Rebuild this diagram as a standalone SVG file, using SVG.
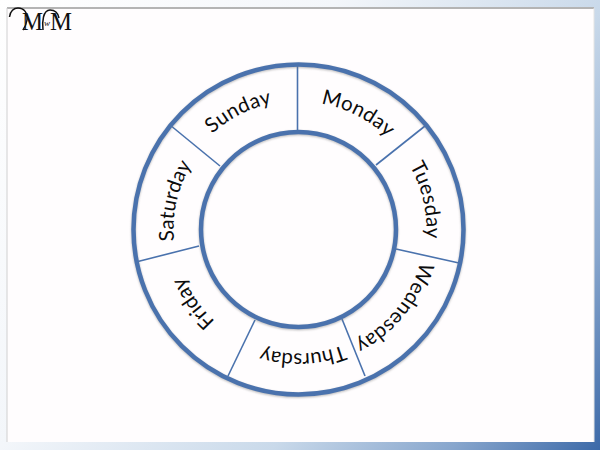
<svg xmlns="http://www.w3.org/2000/svg" xmlns:xlink="http://www.w3.org/1999/xlink" width="600" height="450" viewBox="0 0 600 450">
<style>
.ring{fill:none;stroke:#4a72ad;stroke-width:4.500}
.shadow{fill:none;stroke:#777;stroke-width:4.500;opacity:.5;filter:url(#sh)}
.div{stroke:#4a72ad;stroke-width:1.600;fill:none}
.day{font-family:"Lato","Open Sans",sans-serif;font-size:20.500px;fill:#0c0c0c;text-anchor:middle}
.logo{font-family:"Liberation Serif",serif;fill:#111}
.sw{fill:none;stroke:#111;stroke-width:1.500}
</style>
<defs>
<linearGradient id="bg" gradientUnits="userSpaceOnUse" x1="0" y1="0" x2="600" y2="450">
<stop offset="0" stop-color="#ffffff"/><stop offset="0.36" stop-color="#f3f6fa"/><stop offset="0.65" stop-color="#c9d9ea"/><stop offset="0.84" stop-color="#88a6cd"/><stop offset="1" stop-color="#3c69a8"/>
</linearGradient>
<path id="arc" d="M174.500 229.500A124 124 0 0 1 422.500 229.500"/>
<filter id="sh" x="-5%" y="-5%" width="110%" height="110%"><feGaussianBlur stdDeviation="1"/></filter>
</defs>
<rect width="600" height="450" fill="url(#bg)"/>
<rect x="7" y="8" width="587" height="434" fill="#fffdfe"/>
<path d="M7 8H594" stroke="#b4b4b4" stroke-width="2" fill="none"/>
<path d="M7 8V442" stroke="#d0d0d0" stroke-width="1" fill="none"/>
<path d="M594 8V442" stroke="#e4e4e4" stroke-width="1" fill="none"/>
<g id="logo">
<text class="logo" x="22" y="30" font-size="26" textLength="21" lengthAdjust="spacingAndGlyphs">M</text>
<text class="logo" x="44" y="26" font-size="9" font-style="italic">w</text>
<text class="logo" x="50" y="30" font-size="26" textLength="22" lengthAdjust="spacingAndGlyphs">M</text>
<path class="sw" d="M9.500 17C10 11 14 8 18 8C24 8 28 13 27 20C26.500 24 25 27 23 30M43 30C42 22 43 10 50 10C55 10 58 13 59 18"/>
</g>
<g id="connectors">
<line class="div" x1="297.500" y1="66" x2="297.500" y2="131"/>
<line class="div" x1="170" y1="125" x2="220" y2="166"/>
<line class="div" x1="425" y1="126" x2="376" y2="165"/>
<line class="div" x1="136" y1="262" x2="199" y2="246"/>
<line class="div" x1="459" y1="263" x2="396" y2="249"/>
<line class="div" x1="228" y1="376" x2="255" y2="320"/>
<line class="div" x1="365" y1="376" x2="342" y2="319"/>
</g>
<g id="outer-ring"><circle class="shadow" cx="298.500" cy="230.500" r="165"/><circle class="ring" cx="298.500" cy="229.500" r="165"/></g>
<g id="inner-ring"><circle class="shadow" cx="298.500" cy="230.500" r="97.500"/><circle class="ring" cx="298.500" cy="229.500" r="97.500"/></g>
<g id="sunday"><text class="day" dy="-5" transform="rotate(-27 298.500 229.500)"><textPath href="#arc" xlink:href="#arc" startOffset="50%">Sunday</textPath></text></g>
<g id="monday"><text class="day" dy="-4" transform="rotate(27 298.500 229.500)"><textPath href="#arc" xlink:href="#arc" startOffset="50%">Monday</textPath></text></g>
<g id="tuesday"><text class="day" dy="-4" transform="rotate(77 298.500 229.500)"><textPath href="#arc" xlink:href="#arc" startOffset="50%">Tuesday</textPath></text></g>
<g id="wednesday"><text class="day" dy="-2" transform="rotate(129 298.500 229.500)"><textPath href="#arc" xlink:href="#arc" startOffset="50%">Wednesday</textPath></text></g>
<g id="thursday"><text class="day" transform="rotate(178 298.500 229.500)"><textPath href="#arc" xlink:href="#arc" startOffset="50%">Thursday</textPath></text></g>
<g id="friday"><text class="day" transform="rotate(235 298.500 229.500)"><textPath href="#arc" xlink:href="#arc" startOffset="50%">Friday</textPath></text></g>
<g id="saturday"><text class="day" dy="-1" transform="rotate(283 298.500 229.500)"><textPath href="#arc" xlink:href="#arc" startOffset="50%">Saturday</textPath></text></g>
</svg>
